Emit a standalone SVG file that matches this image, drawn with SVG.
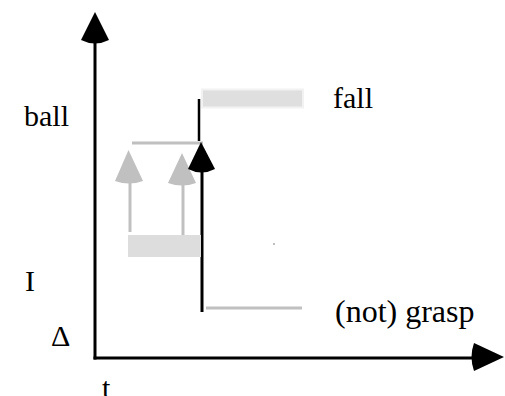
<svg xmlns="http://www.w3.org/2000/svg" width="505" height="396" viewBox="0 0 505 396">
<style>
.t{font-family:"Liberation Serif","DejaVu Serif","Times New Roman",Times,serif;font-size:30px;fill:#000}
.blk{stroke:#000;fill:none}
.gry{stroke:#c0c0c0;fill:none;stroke-width:3}
</style>
<rect width="505" height="396" fill="#fff"/>
<g id="axes">
<line class="blk" x1="95" y1="38" x2="95" y2="359.5" stroke-width="3"/>
<line class="blk" x1="93.5" y1="358" x2="476" y2="358" stroke-width="3"/>
<path d="M95,12 L81,40 Q95,47 109,40 Z" fill="#000"/>
<path d="M504,357 L474,343 Q469,357 474,371 Z" fill="#000"/>
</g>
<g id="connectors">
<line class="gry" x1="132" y1="143" x2="203" y2="143"/>
<line class="gry" x1="130" y1="181" x2="130" y2="232"/>
<path d="M128.5,150 L115,181 Q129,186 143,181 Z" fill="#c0c0c0"/>
<line class="gry" x1="183" y1="184" x2="183" y2="237"/>
<path d="M182,153 L168,183 Q182,188 196,183 Z" fill="#c0c0c0"/>
<line class="blk" x1="199" y1="99" x2="199" y2="141" stroke-width="2.5"/>
<line class="blk" x1="202" y1="168" x2="202" y2="312" stroke-width="3"/>
<path d="M201,142 L188,169 Q201.5,176 215,169 Z" fill="#000"/>
<line class="gry" x1="206" y1="308" x2="302" y2="308"/>
</g>
<g id="fall-bar"><rect x="202" y="89.5" width="101" height="18" fill="#dfdfdf" stroke="#f2f2f2" stroke-width="2"/></g>
<g id="grasp-bar"><rect x="128" y="235" width="73" height="22" fill="#dddddd"/></g>
<rect x="273" y="243" width="2" height="2" fill="#c0c0c0"/>
<g id="labels">
<text class="t" x="24" y="126">ball</text>
<text class="t" x="333" y="108">fall</text>
<text class="t" x="25" y="291">I</text>
<text class="t" x="51" y="346">Δ</text>
<text class="t" x="335" y="322" style="font-size:32px">(not) grasp</text>
<text class="t" x="102" y="398">t</text>
</g>
</svg>
